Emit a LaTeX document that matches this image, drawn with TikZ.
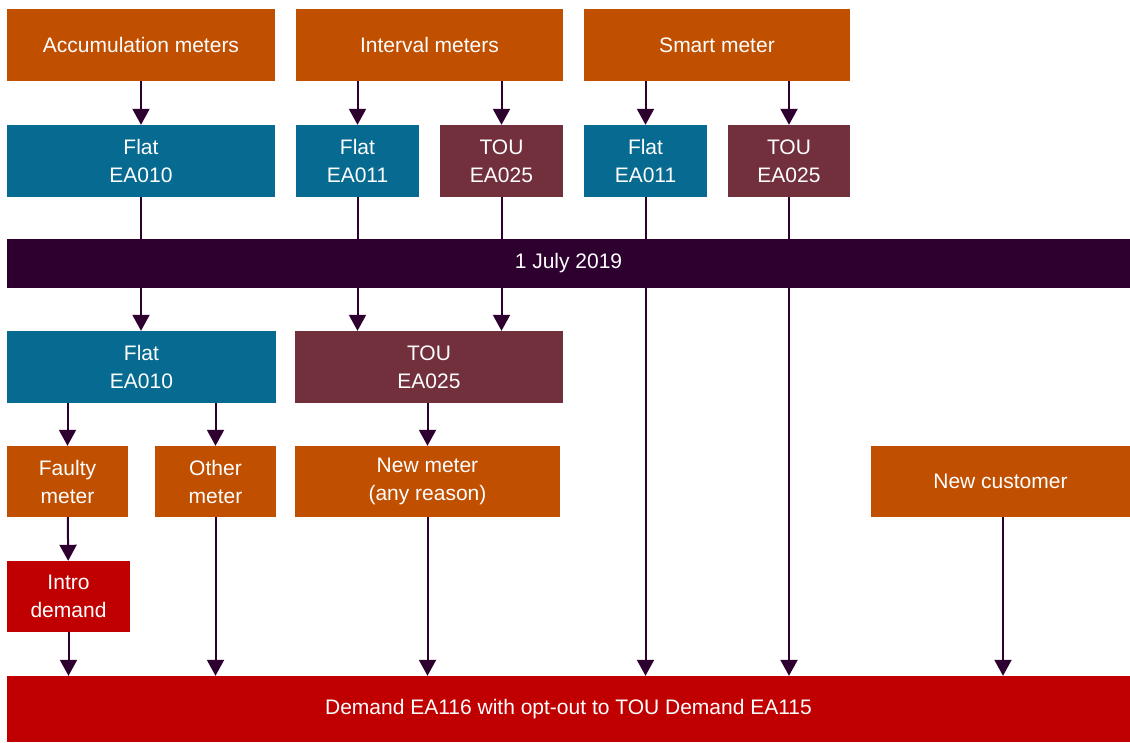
\documentclass[tikz,border=0pt]{standalone}
\usepackage{fontspec}
\setmainfont{Liberation Sans}
\usepackage{tikz}
\usetikzlibrary{arrows.meta,positioning,calc}
\definecolor{meter}{RGB}{192,79,0}
\definecolor{flat}{RGB}{6,106,145}
\definecolor{tou}{RGB}{114,47,60}
\definecolor{dateline}{RGB}{45,0,48}
\definecolor{demand}{RGB}{192,0,0}

\begin{document}
\begin{tikzpicture}[x=1pt,y=-1pt,
  box/.style={inner sep=0pt,minimum height=72pt,align=center,text=white,font=\fontsize{21}{28}\selectfont},
  meterbox/.style={box,fill=meter},
  flatbox/.style={box,fill=flat},
  toubox/.style={box,fill=tou},
  demandbox/.style={box,fill=demand},
  arr/.style={draw=dateline,line width=2pt,-{Triangle[width=17pt,length=16pt]}}]
\useasboundingbox (0,0) rectangle (1130,742);
% meter types
\node[meterbox,minimum width=268pt] (acc) at (141,45) {Accumulation meters};
\node[meterbox,minimum width=267pt] (intv) at (429.5,45) {Interval meters};
\node[meterbox,minimum width=266pt] (smart) at (717,45) {Smart meter};
% tariffs before the change
\node[flatbox,minimum width=268pt] (flatA) at (141,161) {Flat\\EA010};
\node[flatbox,minimum width=123pt] (flatI) at (357.5,161) {Flat\\EA011};
\node[toubox,minimum width=123pt] (touI) at (501.5,161) {TOU\\EA025};
\node[flatbox,minimum width=123pt] (flatS) at (645.5,161) {Flat\\EA011};
\node[toubox,minimum width=122pt] (touS) at (789,161) {TOU\\EA025};
% tariffs after the change
\node[flatbox,minimum width=269pt] (flatB) at (141.5,367) {Flat\\EA010};
\node[toubox,minimum width=268pt] (touB) at (429,367) {TOU\\EA025};
% triggers
\node[meterbox,minimum width=121pt,minimum height=71pt] (faulty) at (67.5,481.5) {Faulty\\meter};
\node[meterbox,minimum width=121pt,minimum height=71pt] (other) at (215.5,481.5) {Other\\meter};
\node[meterbox,minimum width=265pt,minimum height=71pt] (newm) at (427.5,481.5) {New meter\\(any reason)};
\node[meterbox,minimum width=259pt,minimum height=71pt] (newc) at (1000.5,481.5) {New customer};
\node[demandbox,minimum width=123pt,minimum height=71pt] (intro) at (68.5,596.5) {Intro\\demand};
\node[demandbox,minimum width=1123pt,minimum height=66pt] (dem) at (568.5,709) {Demand EA116 with opt-out to TOU Demand EA115};
% connectors
\draw[arr] (acc) -- (flatA);
\draw[arr] (intv.south -| flatI) -- (flatI);
\draw[arr] (intv.south -| touI) -- (touI);
\draw[arr] (smart.south -| flatS) -- (flatS);
\draw[arr] (smart.south -| touS) -- (touS);
\draw[arr] (flatA) -- (flatA |- flatB.north);
\draw[arr] (flatI) -- (flatI |- touB.north);
\draw[arr] (touI) -- (touI |- touB.north);
\draw[arr] (flatS) -- (flatS |- dem.north);
\draw[arr] (touS) -- (touS |- dem.north);
\draw[arr] (flatB.south -| faulty) -- (faulty);
\draw[arr] (flatB.south -| other) -- (other);
\draw[arr] (touB.south -| newm) -- (newm);
\draw[arr] (faulty) -- (intro);
\draw[arr] (intro) -- (intro |- dem.north);
\draw[arr] (other) -- (other |- dem.north);
\draw[arr] (newm) -- (newm |- dem.north);
\draw[arr] ($(newc.south)+(2.5,0)$) -- ($(newc.south |- dem.north)+(2.5,0)$);
% date bar on top of the lines
\node[box,fill=dateline,minimum width=1123pt,minimum height=49pt] (date) at (568.5,263.5) {1 July 2019};
\end{tikzpicture}
\end{document}
